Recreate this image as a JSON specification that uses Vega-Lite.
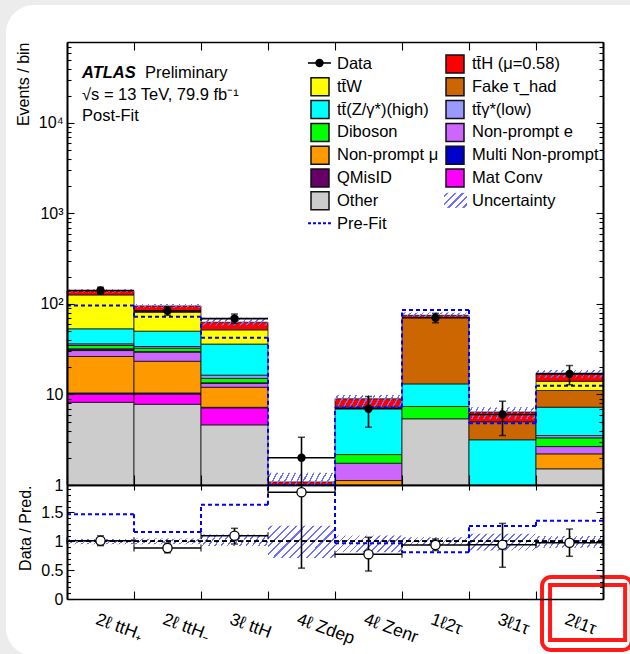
{
  "$schema": "https://vega.github.io/schema/vega-lite/v6.json",
  "autosize": {"type": "none"},
  "padding": {"left": 67, "top": 42, "right": 563, "bottom": 612},
  "background": "#ececec",
  "spacing": 0,
  "bounds": "flush",
  "config": {
    "font": "Liberation Sans",
    "view": {"stroke": null},
    "axis": {
      "grid": false, "zindex": 1, "domain": true, "domainColor": "black", "domainWidth": 1.6,
      "tickColor": "black", "tickWidth": 1.1, "labelFont": "Liberation Sans", "labelFontSize": 16,
      "labelColor": "black", "labelOverlap": false, "labelFlush": false, "labelBound": false,
      "titleFont": "Liberation Sans", "titleFontSize": 16, "titleFontWeight": "normal", "titleColor": "black"
    }
  },
  "datasets": {
    "regions": [
      {"bin": 0, "x0": 0, "x1": 1, "data": 141, "dataLo": 129, "dataHi": 153, "uncLo": 133, "uncHi": 145.6, "prefit": 96, "ratio": 1.01, "ratioLo": 0.925, "ratioHi": 1.095, "uncRatioLo": 0.95, "uncRatioHi": 1.04, "prefitRatio": 1.47},
      {"bin": 1, "x0": 1, "x1": 2, "data": 84, "dataLo": 75, "dataHi": 93, "uncLo": 90.3, "uncHi": 99.8, "prefit": 72.5, "ratio": 0.884, "ratioLo": 0.8, "ratioHi": 0.97, "uncRatioLo": 0.95, "uncRatioHi": 1.05, "prefitRatio": 1.16},
      {"bin": 2, "x0": 2, "x1": 3, "data": 69, "dataLo": 61, "dataHi": 77.5, "uncLo": 58, "uncHi": 70.6, "prefit": 42.3, "ratio": 1.097, "ratioLo": 0.953, "ratioHi": 1.225, "uncRatioLo": 0.92, "uncRatioHi": 1.12, "prefitRatio": 1.634},
      {"bin": 3, "x0": 3, "x1": 4, "data": 2, "dataLo": 0.7, "dataHi": 3.37, "uncLo": 0.77, "uncHi": 1.37, "prefit": 0.9, "ratio": 1.85, "ratioLo": 0.535, "ratioHi": 3.1, "uncRatioLo": 0.71, "uncRatioHi": 1.27, "prefitRatio": 2.22},
      {"bin": 4, "x0": 4, "x1": 5, "data": 6.95, "dataLo": 4.35, "dataHi": 9.5, "uncLo": 7.26, "uncHi": 9.86, "prefit": 7.2, "ratio": 0.776, "ratioLo": 0.485, "ratioHi": 1.07, "uncRatioLo": 0.81, "uncRatioHi": 1.1, "prefitRatio": 0.965},
      {"bin": 5, "x0": 5, "x1": 6, "data": 70.4, "dataLo": 62, "dataHi": 78.8, "uncLo": 69.8, "uncHi": 80.3, "prefit": 86, "ratio": 0.936, "ratioLo": 0.84, "ratioHi": 1.04, "uncRatioLo": 0.93, "uncRatioHi": 1.07, "prefitRatio": 0.81},
      {"bin": 6, "x0": 6, "x1": 7, "data": 6.01, "dataLo": 3.52, "dataHi": 8.43, "uncLo": 5.37, "uncHi": 7.23, "prefit": 4.8, "ratio": 0.94, "ratioLo": 0.55, "ratioHi": 1.31, "uncRatioLo": 0.84, "uncRatioHi": 1.13, "prefitRatio": 1.265},
      {"bin": 7, "x0": 7, "x1": 8, "data": 16.9, "dataLo": 12.8, "dataHi": 20.9, "uncLo": 15.3, "uncHi": 18.7, "prefit": 12.5, "ratio": 0.976, "ratioLo": 0.74, "ratioHi": 1.213, "uncRatioLo": 0.89, "uncRatioHi": 1.09, "prefitRatio": 1.357}
    ],
    "stack": [
      {"bin": 0, "process": "Other", "events": 8.2},
      {"bin": 0, "process": "Mat Conv", "events": 1.9},
      {"bin": 0, "process": "Multi Non-prompt", "events": 0.3},
      {"bin": 0, "process": "Non-prompt μ", "events": 15.9},
      {"bin": 0, "process": "Non-prompt e", "events": 4.3},
      {"bin": 0, "process": "QMisID", "events": 1.4},
      {"bin": 0, "process": "Diboson", "events": 2.8},
      {"bin": 0, "process": "tt\u0304γ*(low)", "events": 1.5},
      {"bin": 0, "process": "tt\u0304(Z/γ*)(high)", "events": 16.9},
      {"bin": 0, "process": "tt\u0304W", "events": 72.8},
      {"bin": 0, "process": "tt\u0304H (μ=0.58)", "events": 14.0},
      {"bin": 1, "process": "Other", "events": 7.8},
      {"bin": 1, "process": "Mat Conv", "events": 2.3},
      {"bin": 1, "process": "Multi Non-prompt", "events": 0.3},
      {"bin": 1, "process": "Non-prompt μ", "events": 12.9},
      {"bin": 1, "process": "Non-prompt e", "events": 6.1},
      {"bin": 1, "process": "QMisID", "events": 0.5},
      {"bin": 1, "process": "Diboson", "events": 2.6},
      {"bin": 1, "process": "tt\u0304γ*(low)", "events": 1.4},
      {"bin": 1, "process": "tt\u0304(Z/γ*)(high)", "events": 16.2},
      {"bin": 1, "process": "tt\u0304W", "events": 31.1},
      {"bin": 1, "process": "tt\u0304H (μ=0.58)", "events": 13.8},
      {"bin": 2, "process": "Other", "events": 4.62},
      {"bin": 2, "process": "Mat Conv", "events": 2.5},
      {"bin": 2, "process": "Multi Non-prompt", "events": 0.1},
      {"bin": 2, "process": "Non-prompt μ", "events": 4.8},
      {"bin": 2, "process": "Non-prompt e", "events": 1.3},
      {"bin": 2, "process": "QMisID", "events": 0.15},
      {"bin": 2, "process": "Diboson", "events": 1.6},
      {"bin": 2, "process": "tt\u0304γ*(low)", "events": 1.3},
      {"bin": 2, "process": "tt\u0304(Z/γ*)(high)", "events": 19.7},
      {"bin": 2, "process": "tt\u0304W", "events": 15.7},
      {"bin": 2, "process": "tt\u0304H (μ=0.58)", "events": 11.1},
      {"bin": 3, "process": "Other", "events": 0.1},
      {"bin": 3, "process": "Diboson", "events": 0.3},
      {"bin": 3, "process": "tt\u0304(Z/γ*)(high)", "events": 0.6},
      {"bin": 3, "process": "tt\u0304H (μ=0.58)", "events": 0.08},
      {"bin": 4, "process": "Other", "events": 0.6},
      {"bin": 4, "process": "Mat Conv", "events": 0.2},
      {"bin": 4, "process": "Multi Non-prompt", "events": 0.1},
      {"bin": 4, "process": "Non-prompt μ", "events": 0.22},
      {"bin": 4, "process": "Non-prompt e", "events": 0.62},
      {"bin": 4, "process": "Diboson", "events": 0.43},
      {"bin": 4, "process": "tt\u0304(Z/γ*)(high)", "events": 5.07},
      {"bin": 4, "process": "tt\u0304H (μ=0.58)", "events": 1.72},
      {"bin": 5, "process": "Other", "events": 5.39},
      {"bin": 5, "process": "Diboson", "events": 1.98},
      {"bin": 5, "process": "tt\u0304(Z/γ*)(high)", "events": 5.73},
      {"bin": 5, "process": "Fake τ_had", "events": 57.9},
      {"bin": 5, "process": "tt\u0304H (μ=0.58)", "events": 4.0},
      {"bin": 6, "process": "Other", "events": 0.35},
      {"bin": 6, "process": "Non-prompt μ", "events": 0.2},
      {"bin": 6, "process": "Non-prompt e", "events": 0.1},
      {"bin": 6, "process": "Diboson", "events": 0.3},
      {"bin": 6, "process": "tt\u0304(Z/γ*)(high)", "events": 2.21},
      {"bin": 6, "process": "Fake τ_had", "events": 1.84},
      {"bin": 6, "process": "tt\u0304H (μ=0.58)", "events": 1.4},
      {"bin": 7, "process": "Other", "events": 1.51},
      {"bin": 7, "process": "Non-prompt μ", "events": 0.7},
      {"bin": 7, "process": "Non-prompt e", "events": 0.45},
      {"bin": 7, "process": "Diboson", "events": 0.66},
      {"bin": 7, "process": "tt\u0304γ*(low)", "events": 0.2},
      {"bin": 7, "process": "tt\u0304(Z/γ*)(high)", "events": 3.72},
      {"bin": 7, "process": "Fake τ_had", "events": 3.83},
      {"bin": 7, "process": "tt\u0304W", "events": 2.93},
      {"bin": 7, "process": "tt\u0304H (μ=0.58)", "events": 3.2}
    ]
  },
  "vconcat": [
    {
      "width": 536,
      "height": 443,
      "resolve": {"scale": {"y": "independent"}, "axis": {"x": "independent", "y": "independent"}},
      "layer": [
        {
          "data": {"values": [{}]},
          "mark": {"type": "rect", "fill": "white", "cornerRadius": 28, "stroke": null},
          "encoding": {
            "x": {"datum": -0.91, "type": "quantitative", "scale": {"domain": [0, 8], "nice": false, "zero": false}, "axis": null},
            "x2": {"datum": 9.45},
            "y": {"datum": 1.0835, "type": "quantitative", "scale": {"domain": [0, 1], "nice": false, "zero": false}, "axis": null},
            "y2": {"datum": -0.386}
          }
        },
        {
          "resolve": {"axis": {"x": "independent", "y": "independent"}},
          "layer": [
            {
              "data": {"name": "stack"},
              "transform": [
                {"lookup": "bin", "from": {"data": {"name": "regions"}, "key": "bin", "fields": ["x0", "x1"]}},
                {"stack": "events", "groupby": ["bin"], "as": ["lo", "hi"]}
              ],
              "mark": {"type": "rect", "strokeWidth": 0.8},
              "encoding": {
                "x": {"field": "x0", "type": "quantitative", "scale": {"domain": [0, 8], "nice": false, "zero": false},
                      "axis": {"orient": "bottom", "zindex": 2, "values": [0, 1, 2, 3, 4, 5, 6, 7, 8], "labels": false, "tickSize": -10, "title": null}},
                "x2": {"field": "x1"},
                "y": {"field": "hi", "type": "quantitative", "scale": {"type": "log", "domain": [1, 78500], "clamp": true, "nice": false},
                      "axis": {"orient": "left", "zindex": 2, "values": [1, 10, 100, 1000, 10000], "tickSize": -7, "labelPadding": 11,
                               "labelExpr": "datum.value == 1 ? '1' : datum.value == 10 ? '10' : datum.value == 100 ? '10²' : datum.value == 1000 ? '10³' : '10⁴'",
                               "title": "Events / bin", "titleAnchor": "end", "titlePadding": 7}},
                "y2": {"field": "lo"},
                "color": {
                  "field": "process", "type": "nominal",
                  "scale": {
                    "domain": ["Data", "tt\u0304W", "tt\u0304(Z/γ*)(high)", "Diboson", "Non-prompt μ", "QMisID", "Other", "Pre-Fit", "tt\u0304H (μ=0.58)", "Fake τ_had", "tt\u0304γ*(low)", "Non-prompt e", "Multi Non-prompt", "Mat Conv", "Uncertainty"],
                    "range": ["#ffffff00", "#ffff00", "#00ffff", "#00ff00", "#ff9900", "#660066", "#cccccc", "#ffffff00", "#ff0000", "#cc6600", "#9999ff", "#cc66ff", "#0000cc", "#ff00ff", "#ffffff00"]
                  },
                  "legend": {
                    "title": null, "orient": "none", "legendX": 243, "legendY": 12, "columns": 2,
                    "symbolSize": 324, "labelFont": "Liberation Sans", "labelFontSize": 16.5, "labelColor": "black",
                    "labelOffset": 7, "rowPadding": -1.2, "columnPadding": 4, "padding": 0, "zindex": 2, "labelLimit": 300
                  }
                },
                "stroke": {
                  "field": "process", "type": "nominal",
                  "scale": {
                    "domain": ["Data", "tt\u0304W", "tt\u0304(Z/γ*)(high)", "Diboson", "Non-prompt μ", "QMisID", "Other", "Pre-Fit", "tt\u0304H (μ=0.58)", "Fake τ_had", "tt\u0304γ*(low)", "Non-prompt e", "Multi Non-prompt", "Mat Conv", "Uncertainty"],
                    "range": ["#ffffff00", "#111111", "#111111", "#111111", "#111111", "#111111", "#111111", "#ffffff00", "#111111", "#111111", "#111111", "#111111", "#111111", "#111111", "#ffffff00"]
                  },
                  "legend": {
                    "title": null, "orient": "none", "legendX": 243, "legendY": 12, "columns": 2,
                    "symbolSize": 324, "labelFont": "Liberation Sans", "labelFontSize": 16.5, "labelColor": "black",
                    "labelOffset": 7, "rowPadding": -1.2, "columnPadding": 4, "padding": 0, "zindex": 2, "labelLimit": 300
                  }
                }
              }
            },
            {
              "data": {"name": "regions"},
              "mark": {"type": "rect", "stroke": null, "fill": {"gradient": "linear", "x1": 0, "y1": 0, "x2": 1.089, "y2": 0.109, "stops": [{"offset":0.0308,"color":"#7070ff00"},{"offset":0.0308,"color":"#7070ff"},{"offset":0.0525,"color":"#7070ff"},{"offset":0.0525,"color":"#7070ff00"},{"offset":0.1142,"color":"#7070ff00"},{"offset":0.1142,"color":"#7070ff"},{"offset":0.1358,"color":"#7070ff"},{"offset":0.1358,"color":"#7070ff00"},{"offset":0.1975,"color":"#7070ff00"},{"offset":0.1975,"color":"#7070ff"},{"offset":0.2192,"color":"#7070ff"},{"offset":0.2192,"color":"#7070ff00"},{"offset":0.2808,"color":"#7070ff00"},{"offset":0.2808,"color":"#7070ff"},{"offset":0.3025,"color":"#7070ff"},{"offset":0.3025,"color":"#7070ff00"},{"offset":0.3642,"color":"#7070ff00"},{"offset":0.3642,"color":"#7070ff"},{"offset":0.3858,"color":"#7070ff"},{"offset":0.3858,"color":"#7070ff00"},{"offset":0.4475,"color":"#7070ff00"},{"offset":0.4475,"color":"#7070ff"},{"offset":0.4692,"color":"#7070ff"},{"offset":0.4692,"color":"#7070ff00"},{"offset":0.5308,"color":"#7070ff00"},{"offset":0.5308,"color":"#7070ff"},{"offset":0.5525,"color":"#7070ff"},{"offset":0.5525,"color":"#7070ff00"},{"offset":0.6142,"color":"#7070ff00"},{"offset":0.6142,"color":"#7070ff"},{"offset":0.6358,"color":"#7070ff"},{"offset":0.6358,"color":"#7070ff00"},{"offset":0.6975,"color":"#7070ff00"},{"offset":0.6975,"color":"#7070ff"},{"offset":0.7192,"color":"#7070ff"},{"offset":0.7192,"color":"#7070ff00"},{"offset":0.7808,"color":"#7070ff00"},{"offset":0.7808,"color":"#7070ff"},{"offset":0.8025,"color":"#7070ff"},{"offset":0.8025,"color":"#7070ff00"},{"offset":0.8642,"color":"#7070ff00"},{"offset":0.8642,"color":"#7070ff"},{"offset":0.8858,"color":"#7070ff"},{"offset":0.8858,"color":"#7070ff00"},{"offset":0.9475,"color":"#7070ff00"},{"offset":0.9475,"color":"#7070ff"},{"offset":0.9692,"color":"#7070ff"},{"offset":0.9692,"color":"#7070ff00"}]}},
              "encoding": {
                "x": {"field": "x0", "type": "quantitative", "axis": {"orient": "top", "zindex": 2, "values": [0, 1, 2, 3, 4, 5, 6, 7, 8], "labels": false, "tickSize": -8, "title": null}},
                "x2": {"field": "x1"},
                "y": {"field": "uncHi", "type": "quantitative", "axis": {"orient": "right", "zindex": 2, "values": [1, 10, 100, 1000, 10000], "labels": false, "tickSize": -7, "title": null}},
                "y2": {"field": "uncLo"}
              }
            },
            {
              "data": {"name": "regions"},
              "mark": {"type": "rule", "stroke": "#0000ff", "strokeWidth": 2, "strokeDash": [4, 3]},
              "encoding": {
                "x": {"field": "x0", "type": "quantitative", "axis": null},
                "x2": {"field": "x1"},
                "y": {"field": "prefit", "type": "quantitative", "axis": {"orient": "left", "zindex": 2, "values": [2,3,4,5,6,7,8,9,20,30,40,50,60,70,80,90,200,300,400,500,600,700,800,900,2000,3000,4000,5000,6000,7000,8000,9000,20000,30000,40000,50000,60000,70000], "labels": false, "tickSize": -4, "title": null}}
              }
            },
            {
              "data": {"name": "regions"},
              "transform": [
                {"window": [{"op": "lag", "field": "prefit", "as": "prefitPrev"}], "sort": [{"field": "bin", "order": "ascending"}]},
                {"filter": "isValid(datum.prefitPrev)"}
              ],
              "mark": {"type": "rule", "stroke": "#0000ff", "strokeWidth": 2, "strokeDash": [4, 3]},
              "encoding": {
                "x": {"field": "x0", "type": "quantitative", "axis": null},
                "y": {"field": "prefitPrev", "type": "quantitative", "axis": {"orient": "right", "zindex": 2, "values": [2,3,4,5,6,7,8,9,20,30,40,50,60,70,80,90,200,300,400,500,600,700,800,900,2000,3000,4000,5000,6000,7000,8000,9000,20000,30000,40000,50000,60000,70000], "labels": false, "tickSize": -4, "title": null}},
                "y2": {"field": "prefit"}
              }
            },
            {
              "data": {"name": "regions"},
              "mark": {"type": "rule", "stroke": "black", "strokeWidth": 1.6},
              "encoding": {
                "x": {"field": "x0", "type": "quantitative", "axis": null},
                "x2": {"field": "x1"},
                "y": {"field": "data", "type": "quantitative", "axis": null}
              }
            },
            {
              "data": {"name": "regions"},
              "mark": {"type": "rule", "stroke": "black", "strokeWidth": 1.6, "xOffset": 33.5},
              "encoding": {
                "x": {"field": "x0", "type": "quantitative", "axis": null},
                "y": {"field": "dataLo", "type": "quantitative", "axis": null},
                "y2": {"field": "dataHi"}
              }
            },
            {
              "data": {"name": "regions"},
              "mark": {"type": "tick", "orient": "horizontal", "size": 7, "thickness": 1.5, "color": "black", "xOffset": 33.5},
              "encoding": {
                "x": {"field": "x0", "type": "quantitative", "axis": null},
                "y": {"field": "dataHi", "type": "quantitative", "axis": null}
              }
            },
            {
              "data": {"name": "regions"},
              "mark": {"type": "tick", "orient": "horizontal", "size": 7, "thickness": 1.5, "color": "black", "xOffset": 33.5},
              "encoding": {
                "x": {"field": "x0", "type": "quantitative", "axis": null},
                "y": {"field": "dataLo", "type": "quantitative", "axis": null}
              }
            },
            {
              "data": {"name": "regions"},
              "mark": {"type": "point", "shape": "circle", "filled": true, "color": "black", "size": 70, "opacity": 1, "xOffset": 33.5},
              "encoding": {
                "x": {"field": "x0", "type": "quantitative", "axis": null},
                "y": {"field": "data", "type": "quantitative", "axis": null}
              }
            },
            {
              "data": {"values": [{}]},
              "mark": {"type": "rule", "stroke": "black", "strokeWidth": 1.6},
              "encoding": {
                "x": {"datum": 3.597, "type": "quantitative", "axis": null},
                "x2": {"datum": 3.94},
                "y": {"datum": 46030, "type": "quantitative", "axis": null}
              }
            },
            {
              "data": {"values": [{}]},
              "mark": {"type": "point", "shape": "circle", "filled": true, "color": "black", "size": 70, "opacity": 1},
              "encoding": {
                "x": {"datum": 3.7687, "type": "quantitative", "axis": null},
                "y": {"datum": 46030, "type": "quantitative", "axis": null}
              }
            },
            {
              "data": {"values": [{}]},
              "mark": {"type": "rule", "stroke": "#0000ff", "strokeWidth": 2, "strokeDash": [3, 2]},
              "encoding": {
                "x": {"datum": 3.597, "type": "quantitative", "axis": null},
                "x2": {"datum": 3.94},
                "y": {"datum": 779, "type": "quantitative", "axis": null}
              }
            },
            {
              "data": {"values": [{}]},
              "mark": {"type": "rect", "stroke": null, "fill": {"gradient": "linear", "x1": 0, "y1": 0, "x2": 1.159, "y2": 0.756, "stops": [{"offset":0.07,"color":"#7070ff00"},{"offset":0.07,"color":"#7070ff"},{"offset":0.13,"color":"#7070ff"},{"offset":0.13,"color":"#7070ff00"},{"offset":0.27,"color":"#7070ff00"},{"offset":0.27,"color":"#7070ff"},{"offset":0.33,"color":"#7070ff"},{"offset":0.33,"color":"#7070ff00"},{"offset":0.47,"color":"#7070ff00"},{"offset":0.47,"color":"#7070ff"},{"offset":0.53,"color":"#7070ff"},{"offset":0.53,"color":"#7070ff00"},{"offset":0.67,"color":"#7070ff00"},{"offset":0.67,"color":"#7070ff"},{"offset":0.73,"color":"#7070ff"},{"offset":0.73,"color":"#7070ff00"},{"offset":0.87,"color":"#7070ff00"},{"offset":0.87,"color":"#7070ff"},{"offset":0.93,"color":"#7070ff"},{"offset":0.93,"color":"#7070ff00"}]}},
              "encoding": {
                "x": {"datum": 5.627, "type": "quantitative", "axis": null},
                "x2": {"datum": 5.97},
                "y": {"datum": 1689, "type": "quantitative", "axis": null},
                "y2": {"datum": 1153}
              }
            },
            {
              "data": {"values": [{}]},
              "mark": {"type": "text", "align": "left", "baseline": "middle", "fontSize": 16.5, "fontWeight": "bold", "fontStyle": "italic", "color": "black"},
              "encoding": {
                "x": {"datum": 0.224, "type": "quantitative", "axis": null},
                "y": {"datum": 36100, "type": "quantitative", "axis": null},
                "text": {"value": "ATLAS"}
              }
            },
            {
              "data": {"values": [{}]},
              "mark": {"type": "text", "align": "left", "baseline": "middle", "fontSize": 16.5, "color": "black"},
              "encoding": {
                "x": {"datum": 1.164, "type": "quantitative", "axis": null},
                "y": {"datum": 36100, "type": "quantitative", "axis": null},
                "text": {"value": "Preliminary"}
              }
            },
            {
              "data": {"values": [{}]},
              "mark": {"type": "text", "align": "left", "baseline": "middle", "fontSize": 16.5, "color": "black"},
              "encoding": {
                "x": {"datum": 0.224, "type": "quantitative", "axis": null},
                "y": {"datum": 20400, "type": "quantitative", "axis": null},
                "text": {"value": "√s = 13 TeV, 79.9 fb⁻¹"}
              }
            },
            {
              "data": {"values": [{}]},
              "mark": {"type": "text", "align": "left", "baseline": "middle", "fontSize": 16.5, "color": "black"},
              "encoding": {
                "x": {"datum": 0.224, "type": "quantitative", "axis": null},
                "y": {"datum": 11800, "type": "quantitative", "axis": null},
                "text": {"value": "Post-Fit"}
              }
            }
          ]
        }
      ]
    },
    {
      "width": 536,
      "height": 114,
      "resolve": {"scale": {"y": "independent"}, "axis": {"x": "independent", "y": "independent"}},
      "layer": [
        {
          "data": {"name": "regions"},
          "resolve": {"axis": {"x": "independent", "y": "independent"}},
          "layer": [
            {
              "transform": [{"filter": "indexof([0, 1, 2, 5, 7], datum.bin) >= 0"}],
              "mark": {"type": "rect", "stroke": null, "fill": {"gradient": "linear", "x1": 0, "y1": 0, "x2": 1.104, "y2": 0.1325, "stops": [{"offset":0.0308,"color":"#7070ff00"},{"offset":0.0308,"color":"#7070ff"},{"offset":0.0525,"color":"#7070ff"},{"offset":0.0525,"color":"#7070ff00"},{"offset":0.1142,"color":"#7070ff00"},{"offset":0.1142,"color":"#7070ff"},{"offset":0.1358,"color":"#7070ff"},{"offset":0.1358,"color":"#7070ff00"},{"offset":0.1975,"color":"#7070ff00"},{"offset":0.1975,"color":"#7070ff"},{"offset":0.2192,"color":"#7070ff"},{"offset":0.2192,"color":"#7070ff00"},{"offset":0.2808,"color":"#7070ff00"},{"offset":0.2808,"color":"#7070ff"},{"offset":0.3025,"color":"#7070ff"},{"offset":0.3025,"color":"#7070ff00"},{"offset":0.3642,"color":"#7070ff00"},{"offset":0.3642,"color":"#7070ff"},{"offset":0.3858,"color":"#7070ff"},{"offset":0.3858,"color":"#7070ff00"},{"offset":0.4475,"color":"#7070ff00"},{"offset":0.4475,"color":"#7070ff"},{"offset":0.4692,"color":"#7070ff"},{"offset":0.4692,"color":"#7070ff00"},{"offset":0.5308,"color":"#7070ff00"},{"offset":0.5308,"color":"#7070ff"},{"offset":0.5525,"color":"#7070ff"},{"offset":0.5525,"color":"#7070ff00"},{"offset":0.6142,"color":"#7070ff00"},{"offset":0.6142,"color":"#7070ff"},{"offset":0.6358,"color":"#7070ff"},{"offset":0.6358,"color":"#7070ff00"},{"offset":0.6975,"color":"#7070ff00"},{"offset":0.6975,"color":"#7070ff"},{"offset":0.7192,"color":"#7070ff"},{"offset":0.7192,"color":"#7070ff00"},{"offset":0.7808,"color":"#7070ff00"},{"offset":0.7808,"color":"#7070ff"},{"offset":0.8025,"color":"#7070ff"},{"offset":0.8025,"color":"#7070ff00"},{"offset":0.8642,"color":"#7070ff00"},{"offset":0.8642,"color":"#7070ff"},{"offset":0.8858,"color":"#7070ff"},{"offset":0.8858,"color":"#7070ff00"},{"offset":0.9475,"color":"#7070ff00"},{"offset":0.9475,"color":"#7070ff"},{"offset":0.9692,"color":"#7070ff"},{"offset":0.9692,"color":"#7070ff00"}]}},
              "encoding": {
                "x": {"field": "x0", "type": "quantitative", "scale": {"domain": [0, 8], "nice": false, "zero": false},
                      "axis": {"orient": "bottom", "zindex": 2, "values": [0, 1, 2, 3, 4, 5, 6, 7, 8], "tickSize": -8, "labelPadding": 19, "labelOffset": 32,
                               "labelAngle": 20, "labelAlign": "left", "labelBaseline": "top", "labelFontSize": 17.5, "title": null,
                               "labelExpr": "datum.value < 8 ? ['2ℓ ttH₊', '2ℓ ttH₋', '3ℓ ttH', '4ℓ Zdep', '4ℓ Zenr', '1ℓ2τ', '3ℓ1τ', '2ℓ1τ'][datum.value] : ''"}},
                "x2": {"field": "x1"},
                "y": {"field": "uncRatioHi", "type": "quantitative", "scale": {"domain": [0, 1.976], "nice": false, "zero": false, "clamp": true},
                      "axis": {"orient": "left", "zindex": 2, "values": [0, 0.5, 1, 1.5], "format": "~g", "tickSize": -7, "labelPadding": 11,
                               "title": "Data / Pred.", "titleAnchor": "end", "titlePadding": 7}},
                "y2": {"field": "uncRatioLo"}
              }
            },
            {
              "transform": [{"filter": "datum.bin == 4 || datum.bin == 6"}],
              "mark": {"type": "rect", "stroke": null, "fill": {"gradient": "linear", "x1": 0, "y1": 0, "x2": 1.176, "y2": 0.294, "stops": [{"offset":0.0308,"color":"#7070ff00"},{"offset":0.0308,"color":"#7070ff"},{"offset":0.0525,"color":"#7070ff"},{"offset":0.0525,"color":"#7070ff00"},{"offset":0.1142,"color":"#7070ff00"},{"offset":0.1142,"color":"#7070ff"},{"offset":0.1358,"color":"#7070ff"},{"offset":0.1358,"color":"#7070ff00"},{"offset":0.1975,"color":"#7070ff00"},{"offset":0.1975,"color":"#7070ff"},{"offset":0.2192,"color":"#7070ff"},{"offset":0.2192,"color":"#7070ff00"},{"offset":0.2808,"color":"#7070ff00"},{"offset":0.2808,"color":"#7070ff"},{"offset":0.3025,"color":"#7070ff"},{"offset":0.3025,"color":"#7070ff00"},{"offset":0.3642,"color":"#7070ff00"},{"offset":0.3642,"color":"#7070ff"},{"offset":0.3858,"color":"#7070ff"},{"offset":0.3858,"color":"#7070ff00"},{"offset":0.4475,"color":"#7070ff00"},{"offset":0.4475,"color":"#7070ff"},{"offset":0.4692,"color":"#7070ff"},{"offset":0.4692,"color":"#7070ff00"},{"offset":0.5308,"color":"#7070ff00"},{"offset":0.5308,"color":"#7070ff"},{"offset":0.5525,"color":"#7070ff"},{"offset":0.5525,"color":"#7070ff00"},{"offset":0.6142,"color":"#7070ff00"},{"offset":0.6142,"color":"#7070ff"},{"offset":0.6358,"color":"#7070ff"},{"offset":0.6358,"color":"#7070ff00"},{"offset":0.6975,"color":"#7070ff00"},{"offset":0.6975,"color":"#7070ff"},{"offset":0.7192,"color":"#7070ff"},{"offset":0.7192,"color":"#7070ff00"},{"offset":0.7808,"color":"#7070ff00"},{"offset":0.7808,"color":"#7070ff"},{"offset":0.8025,"color":"#7070ff"},{"offset":0.8025,"color":"#7070ff00"},{"offset":0.8642,"color":"#7070ff00"},{"offset":0.8642,"color":"#7070ff"},{"offset":0.8858,"color":"#7070ff"},{"offset":0.8858,"color":"#7070ff00"},{"offset":0.9475,"color":"#7070ff00"},{"offset":0.9475,"color":"#7070ff"},{"offset":0.9692,"color":"#7070ff"},{"offset":0.9692,"color":"#7070ff00"}]}},
              "encoding": {
                "x": {"field": "x0", "type": "quantitative", "axis": {"orient": "top", "zindex": 2, "values": [0, 1, 2, 3, 4, 5, 6, 7, 8], "labels": false, "tickSize": -5, "title": null}},
                "x2": {"field": "x1"},
                "y": {"field": "uncRatioHi", "type": "quantitative", "axis": {"orient": "right", "zindex": 2, "values": [0, 0.5, 1, 1.5], "labels": false, "tickSize": -7, "title": null}},
                "y2": {"field": "uncRatioLo"}
              }
            },
            {
              "transform": [{"filter": "datum.bin == 3"}],
              "mark": {"type": "rect", "stroke": null, "fill": {"gradient": "linear", "x1": 0, "y1": 0, "x2": 1.203, "y2": 0.577, "stops": [{"offset":0.0308,"color":"#7070ff00"},{"offset":0.0308,"color":"#7070ff"},{"offset":0.0525,"color":"#7070ff"},{"offset":0.0525,"color":"#7070ff00"},{"offset":0.1142,"color":"#7070ff00"},{"offset":0.1142,"color":"#7070ff"},{"offset":0.1358,"color":"#7070ff"},{"offset":0.1358,"color":"#7070ff00"},{"offset":0.1975,"color":"#7070ff00"},{"offset":0.1975,"color":"#7070ff"},{"offset":0.2192,"color":"#7070ff"},{"offset":0.2192,"color":"#7070ff00"},{"offset":0.2808,"color":"#7070ff00"},{"offset":0.2808,"color":"#7070ff"},{"offset":0.3025,"color":"#7070ff"},{"offset":0.3025,"color":"#7070ff00"},{"offset":0.3642,"color":"#7070ff00"},{"offset":0.3642,"color":"#7070ff"},{"offset":0.3858,"color":"#7070ff"},{"offset":0.3858,"color":"#7070ff00"},{"offset":0.4475,"color":"#7070ff00"},{"offset":0.4475,"color":"#7070ff"},{"offset":0.4692,"color":"#7070ff"},{"offset":0.4692,"color":"#7070ff00"},{"offset":0.5308,"color":"#7070ff00"},{"offset":0.5308,"color":"#7070ff"},{"offset":0.5525,"color":"#7070ff"},{"offset":0.5525,"color":"#7070ff00"},{"offset":0.6142,"color":"#7070ff00"},{"offset":0.6142,"color":"#7070ff"},{"offset":0.6358,"color":"#7070ff"},{"offset":0.6358,"color":"#7070ff00"},{"offset":0.6975,"color":"#7070ff00"},{"offset":0.6975,"color":"#7070ff"},{"offset":0.7192,"color":"#7070ff"},{"offset":0.7192,"color":"#7070ff00"},{"offset":0.7808,"color":"#7070ff00"},{"offset":0.7808,"color":"#7070ff"},{"offset":0.8025,"color":"#7070ff"},{"offset":0.8025,"color":"#7070ff00"},{"offset":0.8642,"color":"#7070ff00"},{"offset":0.8642,"color":"#7070ff"},{"offset":0.8858,"color":"#7070ff"},{"offset":0.8858,"color":"#7070ff00"},{"offset":0.9475,"color":"#7070ff00"},{"offset":0.9475,"color":"#7070ff"},{"offset":0.9692,"color":"#7070ff"},{"offset":0.9692,"color":"#7070ff00"}]}},
              "encoding": {
                "x": {"field": "x0", "type": "quantitative", "axis": null},
                "x2": {"field": "x1"},
                "y": {"field": "uncRatioHi", "type": "quantitative", "axis": {"orient": "left", "zindex": 2, "values": [0.1,0.2,0.3,0.4,0.6,0.7,0.8,0.9,1.1,1.2,1.3,1.4,1.6,1.7,1.8,1.9], "labels": false, "tickSize": -3.5, "title": null}},
                "y2": {"field": "uncRatioLo"}
              }
            },
            {
              "mark": {"type": "rule", "stroke": "black", "strokeWidth": 1.3, "strokeDash": [5, 3]},
              "encoding": {
                "y": {"datum": 1, "type": "quantitative", "axis": {"orient": "right", "zindex": 2, "values": [0.1,0.2,0.3,0.4,0.6,0.7,0.8,0.9,1.1,1.2,1.3,1.4,1.6,1.7,1.8,1.9], "labels": false, "tickSize": -3.5, "title": null}}
              }
            },
            {
              "mark": {"type": "rule", "stroke": "#0000ff", "strokeWidth": 2, "strokeDash": [4, 3]},
              "encoding": {
                "x": {"field": "x0", "type": "quantitative", "axis": null},
                "x2": {"field": "x1"},
                "y": {"field": "prefitRatio", "type": "quantitative", "axis": null}
              }
            },
            {
              "transform": [
                {"window": [{"op": "lag", "field": "prefitRatio", "as": "prefitRatioPrev"}], "sort": [{"field": "bin", "order": "ascending"}]},
                {"filter": "isValid(datum.prefitRatioPrev)"}
              ],
              "mark": {"type": "rule", "stroke": "#0000ff", "strokeWidth": 2, "strokeDash": [4, 3]},
              "encoding": {
                "x": {"field": "x0", "type": "quantitative", "axis": null},
                "y": {"field": "prefitRatioPrev", "type": "quantitative", "axis": null},
                "y2": {"field": "prefitRatio"}
              }
            },
            {
              "mark": {"type": "rule", "stroke": "black", "strokeWidth": 1.6},
              "encoding": {
                "x": {"field": "x0", "type": "quantitative", "axis": null},
                "x2": {"field": "x1"},
                "y": {"field": "ratio", "type": "quantitative", "axis": null}
              }
            },
            {
              "mark": {"type": "tick", "orient": "vertical", "size": 7, "thickness": 1.5, "color": "black"},
              "encoding": {
                "x": {"field": "x0", "type": "quantitative", "axis": null},
                "y": {"field": "ratio", "type": "quantitative", "axis": null}
              }
            },
            {
              "mark": {"type": "tick", "orient": "vertical", "size": 7, "thickness": 1.5, "color": "black"},
              "encoding": {
                "x": {"field": "x1", "type": "quantitative", "axis": null},
                "y": {"field": "ratio", "type": "quantitative", "axis": null}
              }
            },
            {
              "mark": {"type": "rule", "stroke": "black", "strokeWidth": 1.6, "xOffset": 33.5},
              "encoding": {
                "x": {"field": "x0", "type": "quantitative", "axis": null},
                "y": {"field": "ratioLo", "type": "quantitative", "axis": null},
                "y2": {"field": "ratioHi"}
              }
            },
            {
              "mark": {"type": "tick", "orient": "horizontal", "size": 7, "thickness": 1.5, "color": "black", "xOffset": 33.5},
              "encoding": {
                "x": {"field": "x0", "type": "quantitative", "axis": null},
                "y": {"field": "ratioHi", "type": "quantitative", "axis": null}
              }
            },
            {
              "mark": {"type": "tick", "orient": "horizontal", "size": 7, "thickness": 1.5, "color": "black", "xOffset": 33.5},
              "encoding": {
                "x": {"field": "x0", "type": "quantitative", "axis": null},
                "y": {"field": "ratioLo", "type": "quantitative", "axis": null}
              }
            },
            {
              "mark": {"type": "point", "shape": "circle", "filled": true, "fill": "white", "stroke": "black", "strokeWidth": 1.3, "size": 85, "opacity": 1, "xOffset": 33.5},
              "encoding": {
                "x": {"field": "x0", "type": "quantitative", "axis": null},
                "y": {"field": "ratio", "type": "quantitative", "axis": null}
              }
            }
          ]
        },
        {
          "data": {"values": [{}]},
          "layer": [
            {
              "mark": {"type": "rect", "fill": "transparent", "stroke": "#ff1a1a", "strokeWidth": 4, "cornerRadius": 9},
              "encoding": {
                "x": {"datum": 7.09, "type": "quantitative", "scale": {"domain": [0, 8], "nice": false, "zero": false}, "axis": null},
                "x2": {"datum": 8.43},
                "y": {"datum": 0.381, "type": "quantitative", "scale": {"domain": [0, 1.976], "nice": false, "zero": false}, "axis": null},
                "y2": {"datum": -0.884}
              }
            },
            {
              "mark": {"type": "rect", "fill": "transparent", "stroke": "#ff1a1a", "strokeWidth": 4},
              "encoding": {
                "x": {"datum": 7.21, "type": "quantitative", "axis": null},
                "x2": {"datum": 8.33},
                "y": {"datum": 0.243, "type": "quantitative", "axis": null},
                "y2": {"datum": -0.711}
              }
            }
          ]
        }
      ]
    }
  ]
}
